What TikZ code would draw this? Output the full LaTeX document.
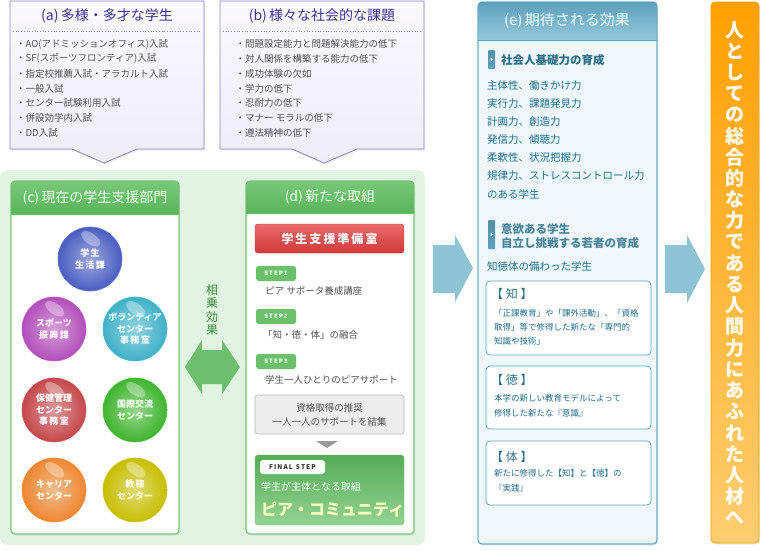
\documentclass[tikz,border=0pt]{standalone}
\usepackage{fontspec}
\setmainfont{Noto Sans CJK JP}
\usetikzlibrary{shadows,calc}
\definecolor{purB}{HTML}{8C84C6}
\definecolor{lavT}{HTML}{FAF9FE}
\definecolor{lavB}{HTML}{EEECF8}
\definecolor{purT}{HTML}{3C3494}
\definecolor{itemgray}{HTML}{505050}
\definecolor{gbg}{HTML}{E1F3E1}
\definecolor{gB}{HTML}{6CC06C}
\definecolor{gH1}{HTML}{78C878}
\definecolor{gH2}{HTML}{5AB45A}
\definecolor{gArrow}{HTML}{6DBF6D}
\definecolor{gTxt}{HTML}{3B8A3B}
\definecolor{bArrow}{HTML}{8EC3D5}
\definecolor{eB}{HTML}{5AA6C2}
\definecolor{eBody}{HTML}{F0F8FB}
\definecolor{eH1}{HTML}{5D9FBB}
\definecolor{eH2}{HTML}{94CADD}
\definecolor{eTxt}{HTML}{1E6B8A}
\definecolor{eHead}{HTML}{2B6E88}
\definecolor{eHead2}{HTML}{4A8399}
\definecolor{oT}{HTML}{FFA000}
\definecolor{oBt}{HTML}{FFCD70}
\definecolor{oB}{HTML}{F2A000}
\definecolor{redT}{HTML}{EC6A6A}
\definecolor{redB}{HTML}{D03A3A}
\definecolor{cBlue}{HTML}{4A5EC2}
\definecolor{cPink}{HTML}{B24EBA}
\definecolor{cTeal}{HTML}{3EB0C8}
\definecolor{cRed}{HTML}{C4474A}
\definecolor{cGreen}{HTML}{3FB42E}
\definecolor{cOrange}{HTML}{EE8630}
\definecolor{cYellow}{HTML}{C6BE00}
\newcommand\sphereball[5]{%
  \node[circle, minimum size=64pt, inner sep=0, draw=#4!85!white, line width=0.6pt,
        shading=radial, inner color=#4!55!white, outer color=#4] (#1) at (#2,#3) {};
  \fill[white, opacity=0.35, rotate around={-35:($(#1)+(-11,-17)$)}] ($(#1)+(-11,-17)$) ellipse (11pt and 5.5pt);
  \node[orbtxt] (#1t) at (#1) {#5};
}
\begin{document}
\begin{tikzpicture}[x=1pt,y=-1pt,
  itemtxt/.style={anchor=west, font=\fontsize{9.5}{11}\selectfont, text=itemgray, inner sep=0},
  titleab/.style={font=\fontsize{14}{16}\selectfont, text=purT, inner sep=0},
  whitetitle/.style={font=\fontsize{14}{16}\selectfont, text=white, inner sep=0},
  orbtxt/.style={font=\bfseries\fontsize{9}{11.5}\selectfont, text=white, align=center, inner sep=0},
  stepbadge/.style={fill=gB, rounded corners=2.5pt},
  steplabel/.style={font=\bfseries\fontsize{6}{6}\selectfont, text=white, inner sep=0},
  dtxt/.style={anchor=west, font=\fontsize{9.5}{11}\selectfont, text=itemgray, inner sep=0},
  etxt/.style={anchor=west, font=\fontsize{10.5}{12}\selectfont, text=eTxt, inner sep=0},
  ehead/.style={anchor=west, font=\bfseries\fontsize{11.5}{13}\selectfont, text=eHead, inner sep=0},
  ehead2/.style={anchor=west, font=\bfseries\fontsize{11.5}{13}\selectfont, text=eHead2, inner sep=0},
  smallbox/.style={fill=white, draw=eB, line width=0.8pt, rounded corners=4pt},
  sbtitle/.style={anchor=west, font=\fontsize{12}{13}\selectfont, text=eHead, inner sep=0},
  sbtxt/.style={anchor=west, font=\fontsize{8.5}{10}\selectfont, text=eTxt, inner sep=0},
  vtxt/.style={font=\bfseries\fontsize{19}{19}\selectfont, text=white, inner sep=0},
  soft/.style={drop shadow={opacity=0.15, shadow xshift=1.2pt, shadow yshift=-1.5pt}}
]
\useasboundingbox (0,0) rectangle (764,550);
\fill[white] (0,0) rectangle (764,550);

% ---------- (a) ----------
\path[soft, draw=purB, line width=0.8pt, top color=lavT, bottom color=lavB]
  (10,1) -- (204,1) -- (204,149) -- (137,149) -- (104,163) -- (72,149) -- (10,149) -- cycle;
\node[titleab] (ta) at (107,16) {(a)\,多様・多才な学生};
\draw[dotted, gray, line width=0.7pt] (13,31) -- (201,31);
\foreach \t [count=\i from 0] in {・AO(アドミッションオフィス)入試,・SF(スポーツフロンティア)入試,・指定校推薦入試・アラカルト入試,・一般入試,・センター試験利用入試,・併設効学内入試,・DD入試}
  \node[itemtxt] (a\i) at (16,44+14.8*\i) {\t};

% ---------- (b) ----------
\path[soft, draw=purB, line width=0.8pt, top color=lavT, bottom color=lavB]
  (220,1) -- (424,1) -- (424,149) -- (357,149) -- (324,163) -- (292,149) -- (220,149) -- cycle;
\node[titleab] (tb) at (322,16) {(b)\,様々な社会的な課題};
\draw[dotted, gray, line width=0.7pt] (223,31) -- (421,31);
\foreach \t [count=\i from 0] in {・問題設定能力と問題解決能力の低下,・対人関係を構築する能力の低下,・成功体験の欠如,・学力の低下,・忍耐力の低下,・マナー モラルの低下,・遵法精神の低下}
  \node[itemtxt] (b\i) at (235.5,44+14.8*\i) {\t};

% ---------- green area ----------
\fill[gbg, rounded corners=8pt] (0,170) rectangle (425,545);

% ---------- (c) ----------
\path[soft, fill=white, draw=gB, line width=0.8pt, rounded corners=4pt] (11,181) rectangle (179,534);
\begin{scope}
  \clip[rounded corners=4pt] (11,181) rectangle (179,534);
  \shade[top color=gH1, bottom color=gH2] (11,181) rectangle (179,214);
\end{scope}
\draw[gB, line width=0.8pt] (11,214) -- (179,214);
\draw[gB, line width=0.8pt, rounded corners=4pt] (11,181) rectangle (179,534);
\node[whitetitle] (tc) at (95,198) {(c)\,現在の学生支援部門};

\sphereball{s1}{90}{259}{cBlue}{学\,生\\生\,活\,課}
\sphereball{s2}{54}{329}{cPink}{スポーツ\\振\,興\,課}
\sphereball{s3}{135}{329}{cTeal}{ボランティア\\センター\\事\,務\,室}
\sphereball{s4}{54}{410}{cRed}{保健管理\\センター\\事\,務\,室}
\sphereball{s5}{135}{410}{cGreen}{国際交流\\センター}
\sphereball{s6}{54}{490}{cOrange}{キャリア\\センター}
\sphereball{s7}{135}{490}{cYellow}{教\,務\\センター}

% ---------- double arrow ----------
\fill[gArrow] (185,367) -- (202,340) -- (202,350) -- (222,350) -- (222,340) -- (240,367)
  -- (222,394) -- (222,384) -- (202,384) -- (202,394) -- cycle;
\foreach \c [count=\i from 0] in {相,乗,効,果}
  \node[font=\fontsize{12}{12}\selectfont, text=gTxt, inner sep=0] (sj\i) at (212,290+13.5*\i) {\c};

% ---------- (d) ----------
\path[soft, fill=white, draw=gB, line width=0.8pt, rounded corners=4pt] (246,181) rectangle (414,534);
\begin{scope}
  \clip[rounded corners=4pt] (246,181) rectangle (414,534);
  \shade[top color=gH1, bottom color=gH2] (246,181) rectangle (414,213);
\end{scope}
\draw[gB, line width=0.8pt] (246,213) -- (414,213);
\draw[gB, line width=0.8pt, rounded corners=4pt] (246,181) rectangle (414,534);
\node[whitetitle] (td) at (330,197) {(d)\,新たな取組};

\shade[top color=redT, bottom color=redB, draw=redB!90!black, rounded corners=3pt] (255,224) rectangle (404,253);
\node[font=\bfseries\fontsize{12}{12}\selectfont, text=white, inner sep=0] (prep) at (329.5,238.5) {学\,生\,支\,援\,準\,備\,室};

\fill[stepbadge] (256,266) rectangle (296,281);
\node[steplabel] (st1) at (276,273.5) {S\,T\,E\,P\,1};
\node[dtxt] (d1) at (265,291) {ピア サポータ養成講座};
\fill[stepbadge] (256,309) rectangle (296,324);
\node[steplabel] (st2) at (276,316.5) {S\,T\,E\,P\,2};
\node[dtxt] (d2) at (263,335) {「知・徳・体」の融合};
\fill[stepbadge] (256,354) rectangle (296,369);
\node[steplabel] (st3) at (276,361.5) {S\,T\,E\,P\,3};
\node[dtxt] (d3) at (265,380) {学生一人ひとりのピアサポート};

\path[fill=black!7, draw=black!28, line width=0.7pt, rounded corners=3pt] (255,395) rectangle (404,434);
\node[font=\fontsize{9.5}{14}\selectfont, text=itemgray, align=center, inner sep=0] (gbx) at (329.5,414.5) {資格取得の推奨\\一人一人のサポートを結集};
\fill[black!40] (316,441) -- (338,441) -- (327,448) -- cycle;

\shade[top color=gH2!95!black, bottom color=gH1!80!white, draw=gB, rounded corners=3pt] (255,455) rectangle (404,525);
\fill[white, rounded corners=3pt] (260,460) rectangle (325,474);
\node[font=\bfseries\fontsize{6.5}{6.5}\selectfont, text=black!80, inner sep=0] (fs) at (292.5,467) {F\,I\,N\,A\,L\ \ S\,T\,E\,P};
\node[anchor=west, font=\fontsize{10}{10}\selectfont, text=white, inner sep=0] (fd1) at (261,487) {学生が主体となる取組};
\node[anchor=west, font=\bfseries\fontsize{16}{16}\selectfont, text=yellow!25, inner sep=0] (pc) at (261,510) {ピア・コミュニティ};

% ---------- blue arrows ----------
\fill[bArrow] (433,245) -- (455,245) -- (455,235) -- (473,268) -- (455,302) -- (455,293) -- (433,293) -- cycle;
\fill[bArrow] (665,245) -- (687,245) -- (687,235) -- (705,269) -- (687,303) -- (687,293) -- (665,293) -- cycle;

% ---------- (e) ----------
\path[soft, fill=eBody, draw=eB, line width=0.8pt, rounded corners=4pt] (478,2) rectangle (657,544);
\begin{scope}
  \clip[rounded corners=4pt] (478,2) rectangle (657,544);
  \shade[top color=eH1, bottom color=eH2] (478,2) rectangle (657,40);
\end{scope}
\draw[eB, line width=0.8pt] (478,40) -- (657,40);
\draw[eB, line width=0.8pt, rounded corners=4pt] (478,2) rectangle (657,544);
\node[whitetitle, font=\fontsize{15}{16}\selectfont] (te) at (567,21) {(e)\,期待される効果};

\shade[top color=eH1!90!black, bottom color=eH1, rounded corners=1pt] (488,50) rectangle (495,69);
\fill[white] (490.5,57.5) -- (493,59.5) -- (490.5,61.5) -- cycle;
\node[ehead] (eh1) at (501,60) {社会人基礎力の育成};
\foreach \t [count=\i from 0] in {主体性、働きかけ力,実行力、課題発見力,計画力、創造力,発信力、傾聴力,柔軟性、状況把握力,規律力、ストレスコントロール力,のある学生}
  \node[etxt] (e\i) at (487,86+18*\i) {\t};

\shade[top color=eH1!90!black, bottom color=eH1, rounded corners=1pt] (488,220) rectangle (495,249);
\fill[white] (490.5,232.5) -- (493,234.5) -- (490.5,236.5) -- cycle;
\node[ehead2] (eh2a) at (501,229) {意欲ある学生};
\node[ehead2] (eh2b) at (501,243) {自立し挑戦する若者の育成};
\node[etxt] (eh3) at (487,266) {知徳体の備わった学生};

\path[smallbox] (486,281) rectangle (651,355);
\node[sbtitle] (k0) at (491,294) {【 知 】};
\node[sbtxt] (k1) at (494,313) {「正課教育」や「課外活動」、「資格};
\node[sbtxt] (k2) at (494,327) {取得」等で修得した新たな「専門的};
\node[sbtxt] (k3) at (494,341) {知識や技術」};

\path[smallbox] (486,366) rectangle (651,429);
\node[sbtitle] (t0) at (491,380) {【 徳 】};
\node[sbtxt] (t1) at (494,398) {本学の新しい教育モデルによって};
\node[sbtxt] (t2) at (494,413) {修得した新たな『意識』};

\path[smallbox] (486,441) rectangle (651,505);
\node[sbtitle] (y0) at (491,457) {【 体 】};
\node[sbtxt] (y1) at (494,473) {新たに修得した【知】と【徳】の};
\node[sbtxt] (y2) at (494,488) {『実践』};

% ---------- orange ----------
\path[soft, top color=oT, bottom color=oBt, draw=oB, line width=0.8pt, rounded corners=4pt] (711,2) rectangle (759,543);
\foreach \c [count=\i from 0] in {人,と,し,て,の,総,合,的,な,力,で,あ,る,人,間,力,に,あ,ふ,れ,た,人,材,へ}
  \node[vtxt] (v\i) at (735,30+21.2*\i) {\c};
\end{tikzpicture}
\end{document}
